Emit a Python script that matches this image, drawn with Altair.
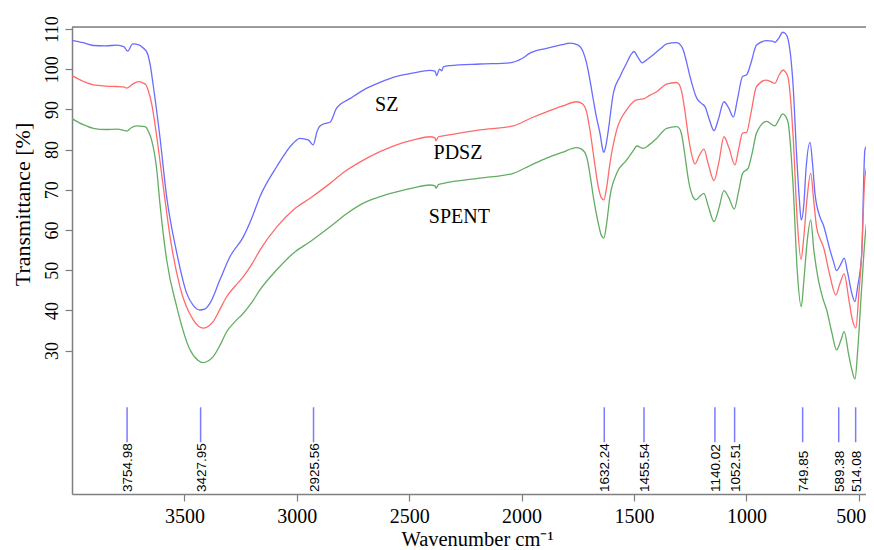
import altair as alt
import pandas as pd

# ---- data ----
sz_wn = [4000, 3950, 3905, 3850, 3801, 3770, 3752, 3730, 3700, 3690, 3665, 3652, 3638, 3609, 3579, 3534,
         3490, 3460, 3431, 3410, 3386, 3342, 3297, 3238, 3200, 3164, 3089, 3016, 2986, 2949, 2927, 2910,
         2897, 2867, 2852, 2823, 2760, 2704, 2630, 2556, 2480, 2408, 2385, 2378, 2365, 2355, 2348, 2319,
         2185, 2052, 2000, 1963, 1889, 1820, 1785, 1748, 1730, 1711, 1695, 1681, 1665, 1651, 1640, 1634,
         1625, 1614, 1592, 1562, 1533, 1515, 1500, 1485, 1463, 1440, 1414, 1380, 1355, 1310, 1290, 1281,
         1265, 1251, 1221, 1200, 1184, 1165, 1144, 1125, 1100, 1080, 1058, 1040, 1017, 999, 980, 955,
         910, 885, 873, 855, 839, 825, 814, 800, 792, 777, 765, 756, 745, 735, 717, 705, 695, 673, 658,
         628, 613, 599, 580, 565, 550, 530, 517, 505, 487, 473, 465, 458, 445, 433]
sz_t = [107.2, 106.6, 105.9, 105.8, 106.0, 105.6, 104.5, 106.3, 106.0, 105.6, 104.0, 101.0, 95.7, 83.2, 68.3, 54.3,
        44.3, 41.2, 40.1, 40.3, 41.8, 47.6, 53.4, 58.3, 63.0, 68.3, 75.8, 81.6, 82.8, 82.4, 81.2, 84.5,
        85.9, 86.6, 86.8, 90.3, 92.8, 94.8, 96.7, 98.2, 99.1, 99.7, 99.5, 98.4, 100.0, 99.6, 100.6, 100.9,
        101.3, 101.6, 102.6, 104.0, 105.2, 106.1, 106.5, 106.0, 104.8, 101.5, 97.0, 92.4, 87.5, 84.0, 80.2, 79.3,
        81.0, 84.9, 94.0, 98.2, 101.5, 103.5, 104.4, 103.2, 101.6, 102.5, 103.6, 105.2, 106.3, 106.6, 105.8, 104.8,
        101.5, 98.2, 92.8, 91.5, 90.7, 87.5, 84.7, 87.5, 91.9, 90.5, 88.1, 92.5, 98.2, 98.6, 101.5, 106.0,
        107.1, 107.0, 106.7, 107.8, 109.2, 108.8, 107.3, 101.5, 95.7, 79.0, 68.0, 62.5, 66.0, 75.0, 81.8, 76.0, 69.1, 63.3, 61.3,
        55.0, 52.2, 49.9, 51.5, 53.0, 49.5, 44.0, 42.2, 46.0, 54.2, 79.9, 80.8, 80.3, 88.0, 95.0]

pdsz_wn = [4000, 3950, 3905, 3850, 3801, 3770, 3757, 3730, 3705, 3685, 3671, 3660, 3646, 3623, 3594, 3564,
           3520, 3460, 3416, 3390, 3372, 3340, 3312, 3275, 3238, 3200, 3164, 3089, 3016, 2941, 2852, 2780,
           2704, 2630, 2556, 2480, 2408, 2385, 2381, 2370, 2348, 2185, 2037, 1960, 1889, 1820, 1755, 1730,
           1711, 1695, 1681, 1659, 1645, 1634, 1622, 1607, 1577, 1533, 1488, 1459, 1430, 1399, 1355, 1313,
           1300, 1288, 1272, 1258, 1240, 1229, 1210, 1189, 1170, 1144, 1122, 1100, 1078, 1051, 1035, 1017,
           999, 980, 955, 910, 873, 855, 836, 825, 814, 800, 792, 774, 757, 745, 730, 714, 700, 688, 670,
           658, 630, 602, 585, 565, 545, 530, 513, 500, 487, 473, 458, 445, 433]
pdsz_t = [98.4, 97.0, 96.1, 95.8, 95.7, 95.6, 95.3, 96.3, 96.9, 96.6, 96.1, 94.5, 91.5, 83.2, 70.8, 58.4,
          45.9, 37.6, 35.6, 36.2, 37.2, 40.5, 43.4, 46.0, 48.4, 51.5, 55.0, 60.8, 65.0, 67.9, 71.6, 74.8,
          77.4, 79.5, 81.2, 82.4, 83.2, 82.9, 82.2, 83.2, 83.4, 84.9, 85.9, 87.8, 89.4, 90.8, 91.9, 91.4,
          89.4, 84.5, 79.0, 70.8, 68.0, 67.5, 70.5, 76.6, 84.9, 89.9, 92.4, 92.6, 93.5, 94.4, 96.3, 96.7,
          96.3, 94.4, 89.0, 83.2, 78.0, 76.4, 78.5, 80.1, 76.5, 72.3, 77.0, 83.2, 80.5, 76.2, 80.0, 84.1,
          84.3, 89.0, 95.7, 97.3, 96.5, 98.5, 99.8, 99.2, 97.8, 90.0, 83.2, 62.5, 52.7, 58.0, 68.0, 74.1, 67.0, 60.8, 57.5,
          55.9, 49.0, 43.8, 46.5, 49.1, 43.0, 38.0, 35.6, 44.0, 54.2, 73.0, 76.6, 76.0, 78.0]

spent_wn = [4000, 3950, 3905, 3850, 3801, 3770, 3757, 3735, 3712, 3685, 3671, 3660, 3646, 3623, 3609, 3579,
            3534, 3475, 3440, 3416, 3395, 3372, 3340, 3312, 3275, 3238, 3200, 3164, 3089, 3016, 2941, 2852,
            2780, 2704, 2630, 2556, 2480, 2408, 2385, 2381, 2370, 2348, 2185, 2037, 1960, 1889, 1820, 1755,
            1730, 1711, 1695, 1681, 1659, 1645, 1634, 1622, 1607, 1577, 1533, 1500, 1488, 1459, 1430, 1399,
            1355, 1310, 1295, 1288, 1272, 1258, 1240, 1225, 1205, 1189, 1170, 1144, 1122, 1100, 1078, 1054,
            1035, 1017, 992, 975, 955, 910, 873, 855, 839, 825, 814, 800, 792, 774, 756, 745, 730, 714, 700,
            680, 660, 643, 620, 599, 580, 565, 545, 530, 517, 505, 487, 465, 450, 433]
spent_t = [87.7, 86.2, 85.3, 85.0, 85.1, 84.8, 84.6, 85.5, 85.9, 85.8, 85.6, 84.5, 82.4, 75.0, 66.7, 52.6,
           40.9, 30.2, 27.6, 27.0, 27.4, 28.5, 31.5, 34.7, 37.2, 39.3, 42.0, 45.1, 50.1, 54.2, 57.1, 60.8,
           64.0, 66.7, 68.3, 69.5, 70.5, 71.2, 71.0, 70.4, 71.3, 71.6, 72.9, 74.1, 76.1, 77.9, 79.3, 80.5,
           80.0, 78.3, 73.5, 68.3, 61.7, 58.6, 58.0, 61.5, 68.3, 74.1, 77.4, 80.0, 80.9, 80.3, 81.3, 82.8,
           85.3, 85.7, 85.0, 83.7, 78.0, 72.5, 68.5, 67.5, 68.5, 69.1, 66.0, 62.1, 65.5, 69.8, 68.0, 65.2,
           69.5, 74.1, 75.4, 79.0, 84.1, 87.0, 85.9, 87.5, 88.9, 88.2, 86.6, 78.0, 70.8, 50.0, 40.9, 47.0, 57.0, 62.5, 55.0,
           47.6, 43.0, 40.1, 34.5, 30.2, 32.5, 34.7, 29.0, 25.0, 22.9, 30.0, 45.9, 61.7, 63.3, 71.6]

series_names = ["SZ", "PDSZ", "SPENT"]
series_colors = ["#6b6bff", "#ff6b6b", "#62ad62"]
name_wn = [2600, 2283, 2277]
name_t = [91.1, 79.2, 63.3]

peak_wn = [3754.98, 3427.95, 2925.56, 1632.24, 1455.54, 1140.02, 1052.51, 749.85, 589.38, 514.08]
peak_labels = ["3754.98", "3427.95", "2925.56", "1632.24", "1455.54", "1140.02", "1052.51",
               "749.85", "589.38", "514.08"]
peak_line_bottom = 7.2
peak_line_top = 15.9
peak_label_t = -5.2

x_ticks = [3500, 3000, 2500, 2000, 1500, 1000, 500]
y_ticks = [30, 40, 50, 60, 70, 80, 90, 100, 110]

# ---- tables ----
rows = []
for name, wn, tt in zip(series_names, [sz_wn, pdsz_wn, spent_wn], [sz_t, pdsz_t, spent_t]):
    for w, v in zip(wn, tt):
        rows.append({"series": name, "wn": w, "t": v})
df = pd.DataFrame(rows)

names_df = pd.DataFrame({"series": series_names, "wn": name_wn, "t": name_t})
peaks_df = pd.DataFrame({"wn": peak_wn, "label": peak_labels,
                         "t": [peak_line_bottom] * len(peak_wn),
                         "t2": [peak_line_top] * len(peak_wn),
                         "tl": [peak_label_t] * len(peak_wn)})

serif = "Liberation Serif"
sans = "Liberation Sans"
gray = "#7f7f7f"
plot_w, plot_h = 794, 467

x_scale = alt.Scale(domain=[4000, 468], nice=False, zero=False)
y_scale = alt.Scale(domain=[-5.67, 110.5], nice=False, zero=False)

x_axis = alt.Axis(values=x_ticks, format="d", grid=False, title="Wavenumber cm\u207b\u00b9",
                  labelFont=serif, labelFontSize=20, labelColor="black", labelBaseline="alphabetic",
                  labelPadding=21, tickSize=7, tickColor=gray, tickWidth=1.2,
                  domainColor=gray, domainWidth=1.5, labelFlush=15, labelFlushOffset=7,
                  labelOverlap=False,
                  titleFont=serif, titleFontSize=20.5, titleFontWeight="normal", titleColor="black",
                  titleBaseline="alphabetic", titleX=405, titleY=51)
y_axis = alt.Axis(values=y_ticks, grid=False, title="Transmittance [%]",
                  labelFont=serif, labelFontSize=18, labelColor="black", labelAngle=270,
                  labelAlign="center", labelBaseline="alphabetic", labelPadding=8,
                  tickSize=7, tickColor=gray, tickWidth=1.2, domainColor=gray, domainWidth=1.5,
                  labelFlush=False, labelOverlap=False,
                  titleFont=serif, titleFontSize=22, titleFontWeight="normal", titleColor="black",
                  titleAngle=270, titleAlign="center", titleBaseline="alphabetic",
                  titleX=-43, titleY=177)

lines = alt.Chart(df).mark_line(strokeWidth=1.3, interpolate="monotone", clip=True).encode(
    x=alt.X("wn:Q", scale=x_scale, axis=x_axis),
    y=alt.Y("t:Q", scale=y_scale, axis=y_axis),
    color=alt.Color("series:N", scale=alt.Scale(domain=series_names, range=series_colors), legend=None),
    order=alt.Order("wn:Q", sort="descending"),
)

names = alt.Chart(names_df).mark_text(font=serif, fontSize=20, color="black",
                                      align="center", baseline="middle").encode(
    x=alt.X("wn:Q", scale=x_scale), y=alt.Y("t:Q", scale=y_scale), text="series:N")

rules = alt.Chart(peaks_df).mark_rule(color="#7b7bff", strokeWidth=1.5).encode(
    x=alt.X("wn:Q", scale=x_scale), y=alt.Y("t:Q", scale=y_scale), y2="t2:Q")

peak_text = alt.Chart(peaks_df).mark_text(font=sans, fontSize=13.5, color="black", angle=270,
                                          align="left", baseline="middle", dy=1).encode(
    x=alt.X("wn:Q", scale=x_scale), y=alt.Y("tl:Q", scale=y_scale), text="label:N")

# top frame line (the right side of the frame is outside the reference picture)
top_frame = alt.Chart(pd.DataFrame({"k": [0]})).mark_rule(color=gray, strokeWidth=1.5).encode(
    x=alt.value(0), x2=alt.value(plot_w), y=alt.value(0))

chart = alt.layer(lines, rules, peak_text, names, top_frame).properties(
    width=plot_w, height=plot_h,
    autosize=alt.AutoSizeParams(type="none"),
    padding={"left": 64, "top": 19, "right": 0, "bottom": 56},
).configure_view(strokeWidth=0).configure(background="white")

chart.save("out.html", embed_options={"renderer": "svg", "actions": False})
